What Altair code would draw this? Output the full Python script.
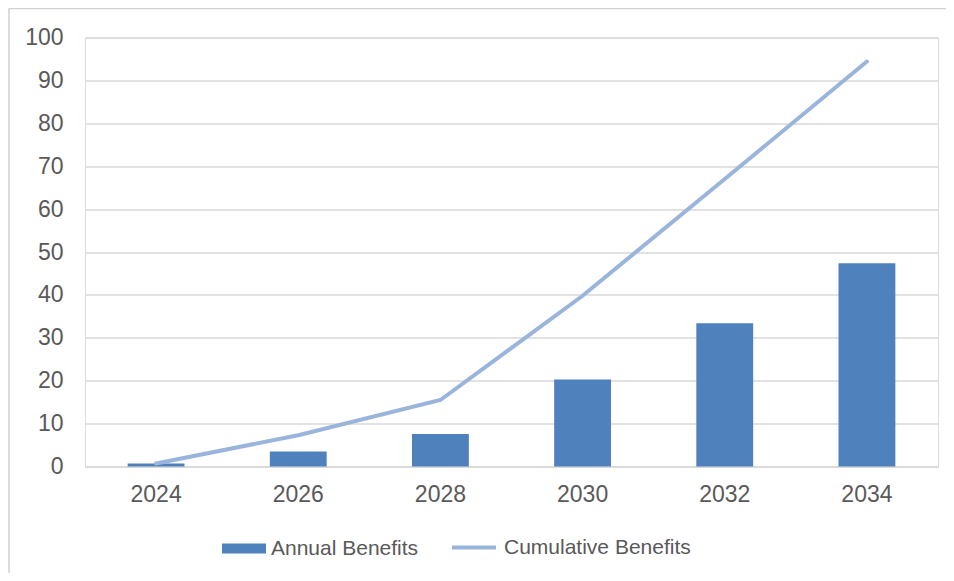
import altair as alt
import pandas as pd

years = ["2024", "2026", "2028", "2030", "2032", "2034"]
annual = [0.7, 3.5, 7.6, 20.3, 33.4, 47.4]
cumulative = [0.7, 7.3, 15.5, 39.8, 67.0, 94.4]
y_ticks = [0, 10, 20, 30, 40, 50, 60, 70, 80, 90, 100]

BAR = "#4F81BD"
LINE = "#9AB5DC"
TXT = "#595959"
GRID = "#D9D9D9"
FONT = "Liberation Sans"

bars_df = pd.DataFrame({"year": years, "value": annual, "series": "Annual Benefits"})
line_df = pd.DataFrame({"year": years, "value": cumulative, "series": "Cumulative Benefits"})

x = alt.X(
    "year:N",
    sort=years,
    scale=alt.Scale(paddingInner=0.6, paddingOuter=0.3),
    axis=alt.Axis(
        title=None, labelAngle=0, ticks=False, domain=True, domainColor=GRID,
        domainWidth=1.3, labelFontSize=23, labelColor=TXT, labelFont=FONT,
        labelPadding=17, grid=False,
    ),
)
y = alt.Y(
    "value:Q",
    scale=alt.Scale(domain=[0, 100], nice=False),
    axis=alt.Axis(
        title=None, values=y_ticks, ticks=False, domain=False, grid=True,
        gridColor=GRID, gridWidth=1.3, labelFontSize=23, labelColor=TXT,
        labelFont=FONT, labelPadding=22,
    ),
)

bars = alt.Chart(bars_df).mark_bar().encode(
    x=x,
    y=y,
    color=alt.Color(
        "series:N",
        scale=alt.Scale(domain=["Annual Benefits"], range=[BAR]),
        legend=alt.Legend(
            title=None, orient="none", legendX=137, legendY=489,
            symbolType="M-1,-0.23L1,-0.23L1,0.23L-1,0.23Z", symbolSize=1936,
            symbolStrokeWidth=0, labelFontSize=21, labelColor=TXT, labelFont=FONT,
            labelOffset=5, padding=0, labelLimit=0,
        ),
    ),
)

line = alt.Chart(line_df).mark_line(strokeWidth=4, strokeCap="round").encode(
    x=x,
    y=y,
    stroke=alt.Stroke(
        "series:N",
        scale=alt.Scale(domain=["Cumulative Benefits"], range=[LINE]),
        legend=alt.Legend(
            title=None, orient="none", legendX=365, legendY=486,
            symbolType="stroke", symbolSize=1936, symbolStrokeWidth=4,
            labelFontSize=21, labelColor=TXT, labelFont=FONT,
            labelOffset=6, padding=0, labelLimit=0,
        ),
    ),
)

frame_df = pd.DataFrame({"a": [0]})
border_left = alt.Chart(frame_df).mark_rule(stroke="#D0D0D0", strokeWidth=1.5).encode(
    x=alt.value(-76),
    y=alt.value(-29),
    y2=alt.value(700),
)
border_top = alt.Chart(frame_df).mark_rule(stroke="#D0D0D0", strokeWidth=1.5).encode(
    x=alt.value(-76),
    x2=alt.value(1000),
    y=alt.value(-29),
)

chart = alt.layer(border_left, border_top, bars, line).properties(
    width=853,
    height=429,
    autosize=alt.AutoSizeParams(type="none"),
    padding={"left": 77, "top": 29.5, "right": 8, "bottom": 106},
).configure_view(stroke=None).configure(background="white")

chart.save("out.html", embed_options={"renderer": "svg", "actions": False})
